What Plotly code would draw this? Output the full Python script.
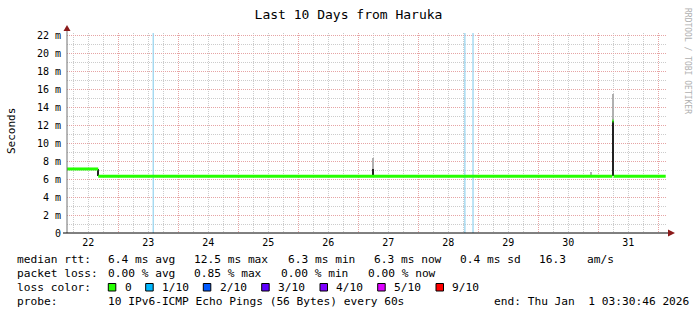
import numpy as np
import pandas as pd
import plotly.graph_objects as go

# ---------------- data ----------------
START = "2025-12-22 03:30:46"
END = "2026-01-01 03:30:46"
Y_MAX = 22.33

# median rtt steps (ms): value holds from t[i] to t[i+1]
median_t = ["2025-12-22 03:30:46", "2025-12-22 16:00", "2025-12-31 05:40",
            "2025-12-31 06:10", "2026-01-01 03:00"]
median_v = [7.15, 6.33, 12.5, 6.33]

# smoke (ping spread) columns (ms)
smoke_t = ["2025-12-22 16:00", "2025-12-27 06:00", "2025-12-30 21:05", "2025-12-31 05:55"]
smoke_lo = [6.33, 6.33, 6.33, 6.33]
smoke_mid = [7.15, 7.1, 6.33, 12.5]
smoke_hi = [7.15, 8.4, 6.8, 15.5]
smoke_w_px = [1, 1, 1, 2]

# packet-loss background lines
loss_t = ["2025-12-23 14:00", "2025-12-28 18:40", "2025-12-28 21:55"]

y_tickvals = list(range(0, 23, 2))
y_ticktext = ["0"] + [f"{v} m" for v in y_tickvals[1:]]

loss_labels = ["0", "1/10", "2/10", "3/10", "4/10", "5/10", "9/10"]
loss_colors = ["#26ff00", "#00b8ff", "#0059ff", "#5e00ff", "#7e00ff", "#dd00ff", "#ff0000"]

line1 = ["median rtt:", "6.4 ms avg", "12.5 ms max", "6.3 ms min", "6.3 ms now",
         "0.4 ms sd", "16.3", "am/s"]
line2 = ["packet loss:", "0.00 % avg", "0.85 % max", "0.00 % min", "0.00 % now"]
line3_label = "loss color:"
line4 = ["probe:", "10 IPv6-ICMP Echo Pings (56 Bytes) every 60s",
         "end: Thu Jan\u00a0\u00a01 03:30:46 2026"]

TITLE = "Last 10 Days from Haruka"

# ---------------- layout geometry (pixels) ----------------
W, H = 697, 315
L, R, T, B = 67, 667, 33, 233
MS_PER_PX = 10 * 86400000 / (R - L)
FONT = "DejaVu Sans Mono"


def px(x):
    return (x - L) / (R - L)


def py(y):
    return (B - y) / (B - T)


fig = go.Figure()

# loss background lines
lx, ly = [], []
for t in loss_t:
    lx += [t, t, None]
    ly += [0, Y_MAX, None]
fig.add_trace(go.Scatter(x=lx, y=ly, mode="lines", line=dict(color="#92d2ee", width=1.2),
                         hoverinfo="skip", showlegend=False))

# smoke bars
st = pd.to_datetime(smoke_t)
lo = np.array(smoke_lo)
mid = np.array(smoke_mid)
hi = np.array(smoke_hi)
widths = np.array(smoke_w_px) * MS_PER_PX
fig.add_trace(go.Bar(x=st, y=hi - mid, base=mid, width=widths,
                     marker=dict(color="#b0b0b0", line=dict(width=0)),
                     hoverinfo="skip", showlegend=False))
fig.add_trace(go.Bar(x=st, y=mid - lo, base=lo, width=widths,
                     marker=dict(color="#222222", line=dict(width=0)),
                     hoverinfo="skip", showlegend=False))

# median steps (horizontal segments only)
mx, my = [], []
for i, v in enumerate(median_v):
    mx += [median_t[i], median_t[i + 1], None]
    my += [v, v, None]
fig.add_trace(go.Scatter(x=mx, y=my, mode="lines", line=dict(color="#26ff00", width=3),
                         hoverinfo="skip", showlegend=False, connectgaps=False))

fig.update_layout(
    width=W, height=H,
    margin=dict(l=L, r=W - R, t=T, b=H - B, pad=0),
    paper_bgcolor="white", plot_bgcolor="white",
    barmode="overlay", bargap=0,
    showlegend=False,
    title=dict(text=TITLE, x=0.5, xref="container", xanchor="center",
               y=1 - 14 / H, yref="container", yanchor="middle",
               font=dict(family=FONT, size=13, color="black")),
    font=dict(family=FONT, color="black"),
)

fig.update_xaxes(
    type="date", range=[START, END],
    tick0="2025-12-22", dtick=86400000, ticklabelmode="period", tickformat="%d",
    showgrid=True, gridcolor="#e6a4a4", griddash="1px,1px", gridwidth=1,
    minor=dict(dtick=6 * 3600000, tick0="2025-12-22", showgrid=True,
               gridcolor="#cccccc", griddash="1px,1px", gridwidth=1),
    showline=False, zeroline=False, ticks="", ticklabelstandoff=2,
    tickfont=dict(family=FONT, size=10, color="black"),
)
fig.update_yaxes(
    range=[0, Y_MAX], tickvals=y_tickvals, ticktext=y_ticktext,
    showgrid=True, gridcolor="#e6a4a4", griddash="1px,1px", gridwidth=1,
    minor=dict(dtick=1, tick0=0, showgrid=True, gridcolor="#cccccc",
               griddash="1px,1px", gridwidth=1),
    showline=False, zeroline=False, ticks="", ticklabelstandoff=5,
    tickfont=dict(family=FONT, size=10, color="black"),
)

shapes = []
# axes
shapes.append(dict(type="line", xref="paper", yref="paper", x0=px(L), x1=px(L),
                   y0=py(B), y1=py(30), line=dict(color="#707070", width=1), layer="above"))
shapes.append(dict(type="line", xref="paper", yref="paper", x0=px(63), x1=px(669),
                   y0=py(B), y1=py(B), line=dict(color="black", width=1), layer="above"))
# arrows
shapes.append(dict(type="path", xref="paper", yref="paper",
                   path=f"M {px(L)},{py(25)} L {px(L-3.5)},{py(31)} L {px(L+3.5)},{py(31)} Z",
                   fillcolor="#8b1a1a", line=dict(width=0), layer="above"))
shapes.append(dict(type="path", xref="paper", yref="paper",
                   path=f"M {px(675)},{py(B)} L {px(668)},{py(B-3.5)} L {px(668)},{py(B+3.5)} Z",
                   fillcolor="#8b1a1a", line=dict(width=0), layer="above"))

annotations = []


def txt(s, x, y, size=11.2, color="black", angle=0, xanchor="left"):
    annotations.append(dict(text=s, x=px(x), y=py(y), xref="paper", yref="paper",
                            xanchor=xanchor, yanchor="middle", showarrow=False,
                            textangle=angle, borderpad=0,
                            font=dict(family=FONT, size=size, color=color)))


txt("Seconds", 11, 131, size=11, angle=-90, xanchor="center")
txt("RRDTOOL / TOBI OETIKER", 687.5, 60.5, size=8, color="#b0b0b0", angle=90, xanchor="center")

x1 = [16, 107, 193, 287, 373, 459, 538, 586]
for s, x in zip(line1, x1):
    txt(s, x, 259.7)
x2 = [16, 107, 193, 280, 367]
for s, x in zip(line2, x2):
    txt(s, x, 273.3)
txt(line3_label, 16, 287.3)
box_x = [108.3, 145.7, 203.3, 261.7, 320, 377.7, 436]
for lab, col, bx in zip(loss_labels, loss_colors, box_x):
    shapes.append(dict(type="rect", xref="paper", yref="paper",
                       x0=px(bx), x1=px(bx + 7.5), y0=py(291), y1=py(283.5),
                       fillcolor=col, line=dict(color="black", width=1)))
    txt(lab, bx + 15.3, 287.3)
x4 = [16, 107, 493]
for s, x in zip(line4, x4):
    txt(s, x, 301.3)

fig.update_layout(shapes=shapes, annotations=annotations)
fig.write_html("out.html")
